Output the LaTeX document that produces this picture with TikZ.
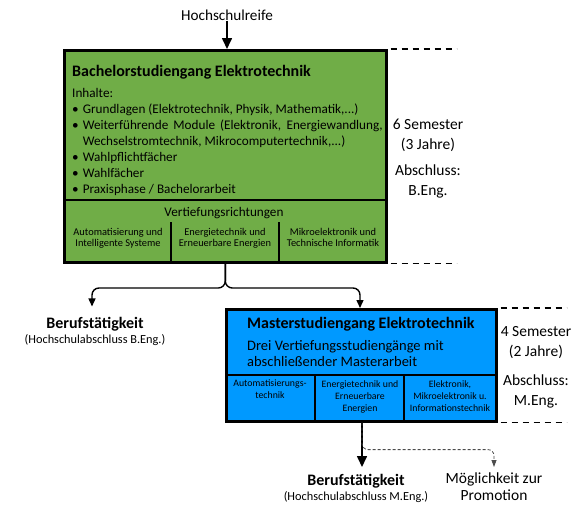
\documentclass[tikz,border=0pt]{standalone}
\usepackage{fontspec}
\setmainfont{Carlito}
\usetikzlibrary{arrows.meta,positioning}
\definecolor{bscgreen}{RGB}{112,173,71}
\definecolor{mscblue}{RGB}{0,153,255}
\tikzset{
  studbox/.style={draw,line width=2.6pt,inner sep=0pt,anchor=north west},
  sep/.style={line width=1.2pt},
  conn/.style={line width=1.4pt,rounded corners=7pt,-{Triangle[length=8pt,width=7pt]}},
  bigconn/.style={line width=1.6pt,-{Triangle[length=11pt,width=10pt]}},
  promo/.style={densely dashed,gray!60!black,line width=0.8pt,rounded corners=6pt,-{Triangle[length=7pt,width=5pt]}},
  period/.style={dash pattern=on 6pt off 5pt,line width=1.2pt},
  coltext/.style={font=\fontsize{10.4}{11.5}\selectfont,align=center,inner sep=0pt,anchor=north},
  mcoltext/.style={font=\fontsize{9.8}{12}\selectfont,align=center,inner sep=0pt,anchor=north},
  sidetext/.style={font=\fontsize{15.5}{20}\selectfont,align=center},
  title/.style={font=\fontsize{16}{19}\selectfont\bfseries,anchor=west,inner sep=0pt},
  body/.style={font=\fontsize{13.2}{16}\selectfont,inner sep=0pt},
  jobtitle/.style={font=\fontsize{16}{18}\selectfont\bfseries},
  jobsub/.style={font=\fontsize{12.3}{14}\selectfont,inner sep=0pt},
}
\begin{document}
\begin{tikzpicture}[x=1pt,y=-1pt]
  \useasboundingbox (0,0) rectangle (584,504);
  % entry requirement
  \node[body,font=\fontsize{15.2}{18}\selectfont] (hsr) at (227,15) {Hochschulreife};
  % bachelor programme
  \node[studbox,fill=bscgreen,minimum width=322,minimum height=212] (bsc) at (63,49) {};
  \draw[bigconn] (hsr) -- (hsr |- bsc.north);
  \node[title] (bsct) at (72,72) {Bachelorstudiengang Elektrotechnik};
  \node[body,anchor=north west] (inh) at (72,86) {%
    \hyphenpenalty=10000
    \begin{tabular}{@{}l@{\hspace{4pt}}p{300pt}@{}}
      \multicolumn{2}{@{}l}{Inhalte:}\\
      \textbullet & Grundlagen (Elektrotechnik, Physik, Mathematik,...)\\
      \textbullet & Weiterführende Module (Elektronik, Energiewandlung,\linebreak Wechselstromtechnik, Mikrocomputertechnik,...)\\
      \textbullet & Wahlpflichtfächer\\
      \textbullet & Wahlfächer\\
      \textbullet & Praxisphase / Bachelorarbeit
    \end{tabular}};
  % specialisations of the bachelor
  \draw[sep] (63,200) -- (385,200);
  \node[body] (vtb) at (224,213) {Vertiefungsrichtungen};
  \foreach \x in {171,279} \draw[sep] (\x,222) -- (\x,261);
  \foreach \x/\lab/\txt in {118/1/{Automatisierung und\\Intelligente Systeme},
      225/2/{Energietechnik und\\Erneuerbare Energien},
      333/3/{Mikroelektronik und\\Technische Informatik}}{%
    \node[coltext] (bv\lab) at (\x,228) {\txt};
  }
  % duration of the bachelor
  \draw[period] ([xshift=3pt]bsc.north east) -- ++(66,0);
  \draw[period] ([xshift=3pt]bsc.south east) -- ++(66,0);
  \node[sidetext] (durb) at (428,135) {6 Semester\\(3 Jahre)};
  \node[sidetext] (absb) at (428,181) {Abschluss:\\B.Eng.};
  % master programme
  \node[studbox,fill=mscblue,minimum width=270,minimum height=112] (msc) at (225,308) {};
  \node[title] (msct) at (247,324) {Masterstudiengang Elektrotechnik};
  \node[body,font=\fontsize{14.5}{16.5}\selectfont,anchor=north west,align=left] (mscd) at (247,340)
    {Drei Vertiefungsstudiengänge mit\\abschließender Masterarbeit};
  \draw[sep] (225,375) -- (495,375);
  \foreach \x in {315,404} \draw[sep] (\x,375) -- (\x,420);
  \foreach \x/\lab/\txt in {270/1/{Automatisierungs-\\technik},
      360/2/{Energietechnik und\\Erneuerbare\\Energien},
      450/3/{Elektronik,\\Mikroelektronik u.\\Informationstechnik}}{%
    \node[mcoltext] (mv\lab) at (\x,380) {\txt};
  }
  % duration of the master
  \draw[period] ([xshift=3pt]msc.north east) -- ++(66,0);
  \draw[period] ([xshift=3pt]msc.south east) -- ++(66,0);
  \node[sidetext] (durm) at (536,343) {4 Semester\\(2 Jahre)};
  \node[sidetext] (absm) at (536,391) {Abschluss:\\M.Eng.};
  % after the bachelor
  \node[jobtitle] (berb) at (95,324) {Berufstätigkeit};
  \node[jobsub,below=0pt of berb] (berbs) {(Hochschulabschluss B.Eng.)};
  \coordinate (bfork) at (bsc.south |- 0,288);
  \coordinate (bjobin) at (berb.north -| 92,0);
  \coordinate (mentry) at (msc.north -| 360,0);
  \draw[conn,shorten >=7pt] (bsc.south) -- (bfork) -| (bjobin);
  \draw[conn] (bsc.south) -- (bfork) -| (mentry);
  % after the master
  \node[jobtitle] (berm) at (356,481) {Berufstätigkeit};
  \node[jobsub,below=0pt of berm] (berms) {(Hochschulabschluss M.Eng.)};
  \node[sidetext,font=\fontsize{15.5}{17}\selectfont,inner sep=0pt] (moeg) at (494,487) {Möglichkeit zur\\Promotion};
  \coordinate (mexit) at (msc.south -| 362,0);
  \coordinate (mjobin) at (mexit |- 0,467);
  \coordinate (promin) at (moeg.north |- 0,467);
  \draw[bigconn] (mexit) -- (mjobin);
  \draw[promo] (mexit) -- ++(0,27) -| (promin);
\end{tikzpicture}
\end{document}
